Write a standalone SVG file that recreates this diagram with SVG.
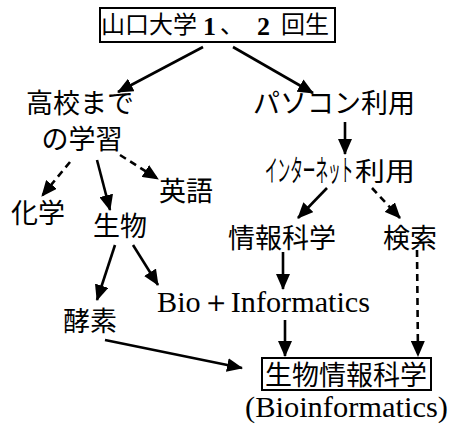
<svg xmlns="http://www.w3.org/2000/svg" width="449" height="426" viewBox="0 0 449 426">
<defs>
<marker id="ah" markerUnits="userSpaceOnUse" markerWidth="16" markerHeight="14" viewBox="0 0 16 14" refX="15" refY="7" orient="auto">
<path d="M0,0 L16,7 L0,14 z" fill="#000"/>
</marker>
<style>
.jp{font-family:"Noto Sans CJK JP","Noto Sans",sans-serif;font-size:27px;fill:#000}
.en{font-family:"Liberation Serif","Times New Roman",serif;fill:#000}
.box{fill:none;stroke:#000;stroke-width:2}
.ar{stroke:#000;stroke-width:2.6;fill:none;marker-end:url(#ah)}
.da{stroke-dasharray:7 5}
</style>
</defs>
<rect width="449" height="426" fill="#fff"/>
<g id="connectors">
<line class="ar" x1="203" y1="47" x2="118" y2="92"/>
<line class="ar" x1="233" y1="47" x2="313" y2="93"/>
<line class="ar" x1="345" y1="122" x2="345" y2="154"/>
<line class="ar da" x1="70" y1="162" x2="42" y2="196"/>
<line class="ar" x1="97" y1="160" x2="110" y2="210"/>
<line class="ar da" x1="120" y1="155" x2="158" y2="179"/>
<line class="ar" x1="327" y1="188" x2="298" y2="218"/>
<line class="ar da" x1="372" y1="188" x2="400" y2="218"/>
<line class="ar" x1="115" y1="245" x2="97" y2="300"/>
<line class="ar" x1="133" y1="245" x2="158" y2="285"/>
<line class="ar" x1="283" y1="252" x2="283" y2="289"/>
<line class="ar" x1="285" y1="320" x2="285" y2="356"/>
<line class="ar da" x1="417" y1="250" x2="418" y2="356"/>
<line class="ar" x1="105" y1="340" x2="242" y2="368"/>
</g>
<g id="top">
<rect class="box" x="100" y="8" width="235" height="34"/>
<text class="jp" x="101" y="33" style="font-size:24px">山口大学</text>
<text class="en" x="203" y="35" style="font-size:26px;font-weight:bold">1</text>
<text class="jp" x="220" y="33" style="font-size:24px">、</text>
<text class="en" x="257" y="35" style="font-size:26px;font-weight:bold">2</text>
<text class="jp" x="281" y="33" style="font-size:24px">回生</text>
</g>
<g id="koukou">
<text class="jp" x="80" y="113" text-anchor="middle">高校まで</text>
<text class="jp" x="82" y="149" text-anchor="middle">の学習</text>
</g>
<g id="pasokon"><text class="jp" x="334" y="113" text-anchor="middle">パソコン利用</text></g>
<g id="internet">
<text class="jp" transform="translate(265,181) scale(0.42,1)" style="font-size:30px">インターネット</text>
<text class="jp" x="355" y="181" style="font-size:26px" textLength="60" lengthAdjust="spacingAndGlyphs">利用</text>
</g>
<g id="kagaku"><text class="jp" x="38" y="223" text-anchor="middle">化学</text></g>
<g id="eigo"><text class="jp" x="186" y="201" text-anchor="middle">英語</text></g>
<g id="seibutsu"><text class="jp" x="120" y="236" text-anchor="middle">生物</text></g>
<g id="jouhou"><text class="jp" x="282" y="248" text-anchor="middle">情報科学</text></g>
<g id="kensaku"><text class="jp" x="410" y="248" text-anchor="middle">検索</text></g>
<g id="bioinfo"><text class="en" x="157" y="312" style="font-size:30px" textLength="213" lengthAdjust="spacingAndGlyphs">Bio＋Informatics</text></g>
<g id="kouso"><text class="jp" x="90" y="331" text-anchor="middle">酵素</text></g>
<g id="result">
<rect class="box" x="262" y="358" width="169" height="32"/>
<text class="jp" x="346" y="385" text-anchor="middle">生物情報科学</text>
<text class="en" x="245" y="417" style="font-size:30px" textLength="203" lengthAdjust="spacingAndGlyphs">(Bioinformatics)</text>
</g>
</svg>
